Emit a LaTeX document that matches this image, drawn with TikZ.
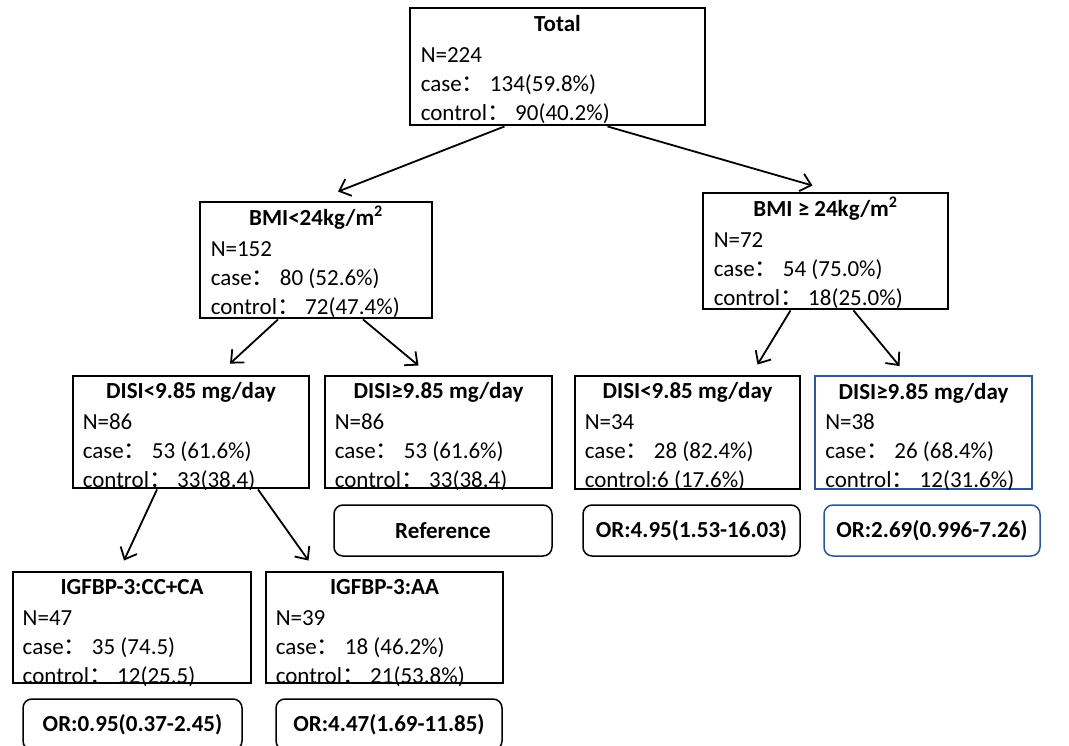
\documentclass[tikz,border=0pt]{standalone}
\usepackage{fontspec}
\setmainfont{Carlito}
\newfontfamily\cjk{Noto Sans CJK SC}
\usetikzlibrary{arrows.meta}
\definecolor{orblue}{RGB}{47,85,151}
\newcommand\fwcolon{{\cjk ：}}
\newcommand\bodyfont{\fontsize{23}{29}\selectfont}
\newcommand\ttlfont{\fontsize{23}{29}\selectfont\bfseries}

\begin{document}
\begin{tikzpicture}[x=1pt, y=-1pt,
    nbox/.style={draw, line width=2.9pt, inner sep=0pt},
    bluebox/.style={nbox, draw=orblue, line width=1.9pt},
    ttl/.style={font=\ttlfont, anchor=base, inner sep=0pt},
    body/.style={font=\bodyfont, align=left, anchor=north west, inner sep=0pt},
    orbox/.style={draw, rounded corners=9pt, line width=1.5pt, font=\ttlfont,
      minimum height=51pt, inner sep=0pt},
    arr/.style={-{Straight Barb[length=10pt,width=18pt]}, line width=1.8pt},
  ]
    \useasboundingbox (0,0) rectangle (1069,746);

    % Root
    \node[nbox, minimum width=295pt, minimum height=117pt] (tot) at (557.5,66.5) {};
    \node[ttl] (totT) at ([yshift=-25pt]tot.north) {Total};
    \node[body] (totB) at ([xshift=12pt,yshift=-35pt]tot.north west)
      {\strut N=224\\ case\fwcolon{} 134(59.8\%)\\ control\fwcolon{} 90(40.2\%)};

    % Level 1: BMI
    \node[nbox, minimum width=232pt, minimum height=116pt] (bmiL) at (316,260) {};
    \node[ttl] (bmiLT) at ([yshift=-25pt]bmiL.north) {BMI<24kg/m\textsuperscript{2}};
    \node[body] (bmiLB) at ([xshift=12pt,yshift=-35pt]bmiL.north west)
      {\strut N=152\\ case\fwcolon{} 80 (52.6\%)\\ control\fwcolon{} 72(47.4\%)};

    \node[nbox, minimum width=245pt, minimum height=116pt] (bmiH) at (825.5,251) {};
    \node[ttl] (bmiHT) at ([yshift=-25pt]bmiH.north) {BMI ≥ 24kg/m\textsuperscript{2}};
    \node[body] (bmiHB) at ([xshift=12pt,yshift=-35pt]bmiH.north west)
      {\strut N=72\\ case\fwcolon{} 54 (75.0\%)\\ control\fwcolon{} 18(25.0\%)};

    % Level 2: DISI
    \node[nbox, minimum width=236pt, minimum height=112pt] (disiA) at (191,432) {};
    \node[ttl] (disiAT) at ([yshift=-24pt]disiA.north) {DISI<9.85 mg/day};
    \node[body] (disiAB) at ([xshift=11pt,yshift=-34pt]disiA.north west)
      {\strut N=86\\ case\fwcolon{} 53 (61.6\%)\\ control\fwcolon{} 33(38.4)};

    \node[nbox, minimum width=227pt, minimum height=112pt] (disiB) at (438.5,432) {};
    \node[ttl] (disiBT) at ([yshift=-24pt]disiB.north) {DISI≥9.85 mg/day};
    \node[body] (disiBB) at ([xshift=11pt,yshift=-34pt]disiB.north west)
      {\strut N=86\\ case\fwcolon{} 53 (61.6\%)\\ control\fwcolon{} 33(38.4)};

    \node[nbox, minimum width=225pt, minimum height=113pt] (disiC) at (687.5,432.5) {};
    \node[ttl] (disiCT) at ([yshift=-24pt]disiC.north) {DISI<9.85 mg/day};
    \node[body] (disiCB) at ([xshift=11pt,yshift=-34pt]disiC.north west)
      {\strut N=34\\ case\fwcolon{} 28 (82.4\%)\\ control:6 (17.6\%)};

    \node[bluebox, minimum width=217pt, minimum height=113pt] (disiD) at (923.5,432.5) {};
    \node[ttl] (disiDT) at ([yshift=-24pt]disiD.north) {DISI≥9.85 mg/day};
    \node[body] (disiDB) at ([xshift=11pt,yshift=-34pt]disiD.north west)
      {\strut N=38\\ case\fwcolon{} 26 (68.4\%)\\ control\fwcolon{} 12(31.6\%)};

    % Odds ratios under level 2
    \node[orbox, minimum width=218pt] (orB) at (443,530.5) {Reference};
    \node[orbox, minimum width=217pt] (orC) at (691.5,530.5) {OR:4.95(1.53-16.03)};
    \node[orbox, draw=orblue, minimum width=216pt] (orD) at (932,530.5) {OR:2.69(0.996-7.26)};

    % Level 3: IGFBP-3
    \node[nbox, minimum width=238pt, minimum height=111pt] (igfC) at (132,627.5) {};
    \node[ttl] (igfCT) at ([yshift=-24pt]igfC.north) {IGFBP-3:CC+CA};
    \node[body] (igfCB) at ([xshift=11pt,yshift=-34pt]igfC.north west)
      {\strut N=47\\ case\fwcolon{} 35 (74.5)\\ control\fwcolon{} 12(25.5)};

    \node[nbox, minimum width=237pt, minimum height=111pt] (igfA) at (384.5,627.5) {};
    \node[ttl] (igfAT) at ([yshift=-24pt]igfA.north) {IGFBP-3:AA};
    \node[body] (igfAB) at ([xshift=11pt,yshift=-34pt]igfA.north west)
      {\strut N=39\\ case\fwcolon{} 18 (46.2\%)\\ control\fwcolon{} 21(53.8\%)};

    \node[orbox, minimum width=219pt] (orIC) at (132.5,724.5) {OR:0.95(0.37-2.45)};
    \node[orbox, minimum width=226pt] (orIA) at (389,724.5) {OR:4.47(1.69-11.85)};

    % Splits
    \draw[arr] ([xshift=-53pt]tot.south) -- ([xshift=22pt,yshift=9pt]bmiL.north);
    \draw[arr] ([xshift=50pt]tot.south) -- ([xshift=-13pt,yshift=6pt]bmiH.north);
    \draw[arr] ([xshift=-38pt]bmiL.south) -- ([xshift=39pt,yshift=11pt]disiA.north);
    \draw[arr] ([xshift=47pt]bmiL.south) -- ([xshift=-20pt,yshift=9pt]disiB.north);
    \draw[arr] ([xshift=-35pt]bmiH.south) -- ([xshift=70pt,yshift=10pt]disiC.north);
    \draw[arr] ([xshift=28pt]bmiH.south) -- ([xshift=-24pt,yshift=9pt]disiD.north);
    \draw[arr] ([xshift=-34pt]disiA.south) -- ([xshift=-8pt,yshift=10pt]igfC.north);
    \draw[arr] ([xshift=67pt]disiA.south) -- ([xshift=-76pt,yshift=10pt]igfA.north);
\end{tikzpicture}
\end{document}
